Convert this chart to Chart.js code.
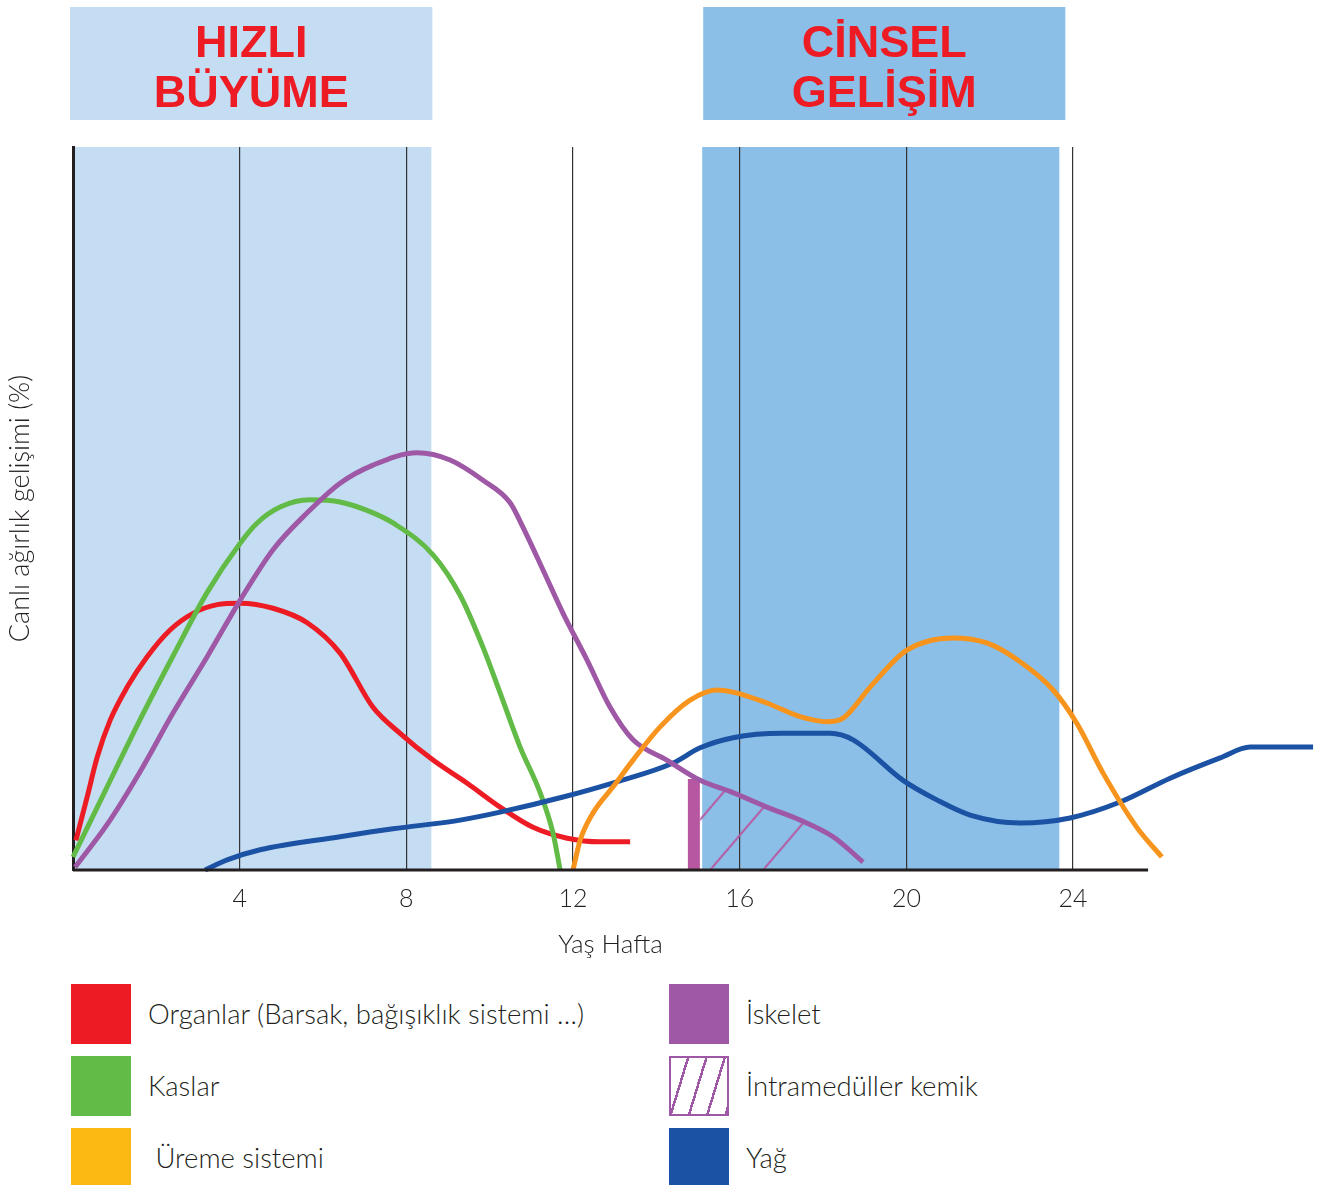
<!DOCTYPE html>
<html lang="tr">
<head>
<meta charset="utf-8">
<script src="https://cdn.jsdelivr.net/npm/chart.js@4/dist/chart.umd.min.js"></script>
<style>
  body { margin: 0; background: #fff; font-family: Lato, "Liberation Sans", sans-serif; }
  #wrap { position: relative; width: 1318px; height: 965px; }
  .sw { position: absolute; width: 60px; height: 60px; box-sizing: border-box; }
  .lb { position: absolute; font-size: 27.5px; font-weight: 300; color: #231F20; line-height: 30px; white-space: pre; }
</style>
</head>
<body>
<div id="wrap"><canvas id="growthChart"></canvas></div>
<div id="legend"></div>
<script>
// weeks on x, live-weight development (%) on y (0-100)
const weekTicks = [4, 8, 12, 16, 20, 24];

const organWeeks  = [0.07, 0.34, 0.58, 0.89, 1.30, 1.78, 2.33, 2.88, 3.46, 4.01, 4.80, 5.62, 6.41, 7.20, 7.85, 8.64, 9.46, 10.25, 11.04, 11.86, 12.65, 13.37];
const organValues = [4.1, 10.1, 15.6, 20.7, 25.3, 29.5, 33.2, 35.5, 36.7, 36.9, 36.2, 34.2, 30.0, 22.5, 18.9, 15.2, 12.0, 8.7, 5.9, 4.4, 3.9, 3.9];

const muscleWeeks  = [0, 0.82, 1.61, 2.40, 3.22, 4.01, 4.42, 4.97, 5.69, 6.41, 7.20, 7.68, 8.64, 9.29, 9.84, 10.25, 10.73, 11.21, 11.52, 11.69];
const muscleValues = [1.8, 11.5, 20.8, 29.6, 38.4, 45.2, 48.0, 50.2, 51.2, 50.9, 49.4, 48.0, 43.6, 38.0, 30.8, 24.5, 17.0, 10.7, 5.1, 0];

const skeletonWeeks  = [0.05, 0.82, 1.61, 2.40, 3.22, 4.01, 4.80, 5.62, 6.41, 7.20, 8.26, 9.05, 9.84, 10.49, 10.80, 11.28, 11.76, 12.34, 12.89, 13.44, 14.25, 15.05, 15.84, 16.65, 17.45, 18.24, 18.96];
const skeletonValues = [0.4, 6.3, 13.6, 21.7, 29.5, 37.3, 44.3, 49.4, 53.5, 56.0, 57.7, 56.7, 53.9, 50.8, 47.4, 41.5, 35.5, 29.0, 22.5, 18.0, 15.2, 12.4, 10.7, 8.7, 6.9, 4.6, 1.1];

const reproWeeks  = [12.0, 12.17, 12.48, 12.96, 13.44, 14.09, 14.81, 15.45, 15.84, 16.65, 17.45, 18.09, 18.48, 19.13, 20.01, 21.12, 21.93, 22.73, 23.52, 24.09, 24.72, 25.53, 26.13];
const reproValues = [0, 4.1, 7.9, 11.5, 15.2, 19.8, 23.5, 24.9, 24.6, 23.1, 21.2, 20.5, 21.0, 25.3, 30.4, 32.1, 31.4, 28.8, 24.9, 20.3, 13.4, 5.9, 1.8];

const fatWeeks  = [3.17, 3.70, 4.49, 6.41, 7.68, 9.29, 10.25, 11.76, 13.05, 14.40, 15.05, 15.84, 17.04, 18.17, 18.72, 19.92, 20.73, 21.53, 22.73, 23.93, 25.13, 26.33, 27.53, 28.25, 29.76];
const fatValues = [0, 1.4, 2.8, 4.6, 5.7, 6.9, 8.0, 10.1, 12.2, 14.8, 16.9, 18.3, 18.9, 18.9, 18.0, 12.4, 9.7, 7.6, 6.5, 7.2, 9.4, 12.7, 15.5, 17.0, 17.0];

// intramedullary bone: hatched area under the skeleton curve + start bar
const boneWeeks  = [15.05, 15.84, 16.65, 17.45, 17.6];
const boneValues = [12.4, 10.7, 8.7, 6.9, 6.6];
const boneBarWeeks  = [14.9, 14.9];
const boneBarValues = [0, 12.6];

// x axis line stops at ~25.8 weeks
const axisWeeks  = [0, 25.8];
const axisValues = [0, 0];

// shaded periods [from, to] in weeks
const bandFast = [0, 8.6];
const bandSexual = [15.1, 23.67];
const bandFastTitle = ['HIZLI', 'BÜYÜME'];
const bandSexualTitle = ['CİNSEL', 'GELİŞİM'];

const legendNames  = ['Organlar (Barsak, bağışıklık sistemi …)', 'Kaslar', ' Üreme sistemi', 'İskelet', 'İntramedüller kemik', 'Yağ'];
const legendColors = ['#ED1C24', '#62BB46', '#FDB913', '#9E58A5', 'hatch', '#1B52A3'];

function points(xs, ys) {
    return xs.map((x, i) => ({ x: x, y: ys[i] }));
}

// hatch pattern for the bone area
const hatch = document.createElement('canvas');
hatch.width = 53;
hatch.height = 62;
const hctx = hatch.getContext('2d');
hctx.strokeStyle = '#B857A1';
hctx.lineWidth = 2;
[-53, 0, 53].forEach(dx => {
    hctx.beginPath();
    hctx.moveTo(dx, 62);
    hctx.lineTo(dx + 53, 0);
    hctx.stroke();
});
const hatchPattern = hctx.createPattern(hatch, 'repeat');
hatchPattern.setTransform(new DOMMatrix([1, 0, 0, 1, 22.7, 0]));

const bandsPlugin = {
    id: 'bands',
    beforeDraw(chart) {
        const ctx = chart.ctx;
        const x = chart.scales.x;
        const area = chart.chartArea;
        const draw = (band, color, title, padL, padR) => {
            const l = x.getPixelForValue(band[0]);
            const r = x.getPixelForValue(band[1]);
            ctx.save();
            ctx.fillStyle = color;
            ctx.fillRect(l, area.top, r - l, area.bottom - area.top);
            ctx.fillRect(l - padL, 7, r - l + padL + padR, 113);
            ctx.fillStyle = '#ED1C24';
            ctx.font = 'bold 45px "Liberation Sans", Arial, sans-serif';
            ctx.textAlign = 'center';
            ctx.textBaseline = 'alphabetic';
            const cx = (l - padL + r + padR) / 2;
            ctx.fillText(title[0], cx, 57);
            ctx.fillText(title[1], cx, 107);
            ctx.restore();
        };
        draw(bandFast, '#C5DDF2', bandFastTitle, 3, 1);
        draw(bandSexual, '#8BBFE7', bandSexualTitle, -1, 6);
    },
    afterDraw(chart) {
        // x axis title, centred under the drawn axis line
        const ctx = chart.ctx;
        const x = chart.scales.x;
        ctx.save();
        ctx.fillStyle = '#231F20';
        ctx.font = '300 26px Lato, sans-serif';
        ctx.textAlign = 'center';
        ctx.textBaseline = 'middle';
        ctx.fillText('Yaş Hafta', x.getPixelForValue((axisWeeks[0] + axisWeeks[1]) / 2), 945);
        ctx.restore();
    }
};

const lineStyle = {
    pointRadius: 0,
    borderWidth: 5,
    fill: false,
    clip: false,
    cubicInterpolationMode: 'monotone'
};

new Chart(document.getElementById('growthChart'), {
    type: 'line',
    data: {
        datasets: [
            { ...lineStyle, label: 'İntramedüller kemik', data: points(boneWeeks, boneValues), borderWidth: 0, fill: 'origin', backgroundColor: hatchPattern, order: 10 },
            { ...lineStyle, label: 'bar', data: points(boneBarWeeks, boneBarValues), borderWidth: 12, borderColor: '#B857A1', borderCapStyle: 'butt', cubicInterpolationMode: 'default', tension: 0, order: 9 },
            { ...lineStyle, label: 'axis', data: points(axisWeeks, axisValues), borderWidth: 3, borderColor: '#231F20', borderCapStyle: 'butt', cubicInterpolationMode: 'default', tension: 0, order: 1 },
            { ...lineStyle, label: 'Organlar', data: points(organWeeks, organValues), borderColor: '#ED1C24', order: 6 },
            { ...lineStyle, label: 'Kaslar', data: points(muscleWeeks, muscleValues), borderColor: '#62BB46', order: 5 },
            { ...lineStyle, label: 'Yağ', data: points(fatWeeks, fatValues), borderColor: '#1B52A3', order: 4 },
            { ...lineStyle, label: 'İskelet', data: points(skeletonWeeks, skeletonValues), borderColor: '#9E58A5', order: 3 },
            { ...lineStyle, label: 'Üreme sistemi', data: points(reproWeeks, reproValues), borderColor: '#F7941D', order: 2 }
        ]
    },
    options: {
        responsive: true,
        maintainAspectRatio: false,
        animation: false,
        layout: { padding: { top: 147, right: 2, left: 4, bottom: 37 } },
        plugins: {
            legend: { display: false },
            tooltip: { enabled: false }
        },
        scales: {
            x: {
                type: 'linear',
                min: 0,
                max: 29.83,
                afterBuildTicks: (scale) => {
                    scale.ticks = weekTicks.map(v => ({ value: v }));
                },
                grid: { color: '#333333', lineWidth: 1.2, drawTicks: false },
                border: { display: false },
                ticks: {
                    color: '#231F20',
                    padding: 14,
                    font: { family: 'Lato', size: 25, weight: 300 }
                }
            },
            y: {
                min: 0,
                max: 100,
                grid: { display: false, drawTicks: false },
                border: { color: '#231F20', width: 3 },
                ticks: { display: false },
                title: {
                    display: true,
                    text: 'Canlı ağırlık gelişimi (%)',
                    color: '#231F20',
                    padding: { top: 0, bottom: 36.6 },
                    font: { family: 'Lato', size: 27, weight: 300 }
                }
            }
        }
    },
    plugins: [bandsPlugin]
});

// legend, two columns
const legend = document.getElementById('legend');
const rowTops = [984, 1056, 1128];
legendNames.forEach((name, i) => {
    const col = Math.floor(i / 3);
    const row = i % 3;
    const left = col === 0 ? 71 : 669;
    const sw = document.createElement('div');
    sw.className = 'sw';
    sw.style.left = left + 'px';
    sw.style.top = rowTops[row] + 'px';
    if (legendColors[i] === 'hatch') {
        sw.style.border = '2px solid #9E58A5';
        sw.style.background = 'repeating-linear-gradient(107deg, #fff 0 15px, #9E58A5 15px 17.5px)';
    } else {
        sw.style.background = legendColors[i];
    }
    legend.appendChild(sw);
    const lb = document.createElement('div');
    lb.className = 'lb';
    lb.textContent = name;
    lb.style.left = (col === 0 ? 148 : 746) + 'px';
    lb.style.top = (rowTops[row] + 15) + 'px';
    legend.appendChild(lb);
});
</script>
</body>
</html>
